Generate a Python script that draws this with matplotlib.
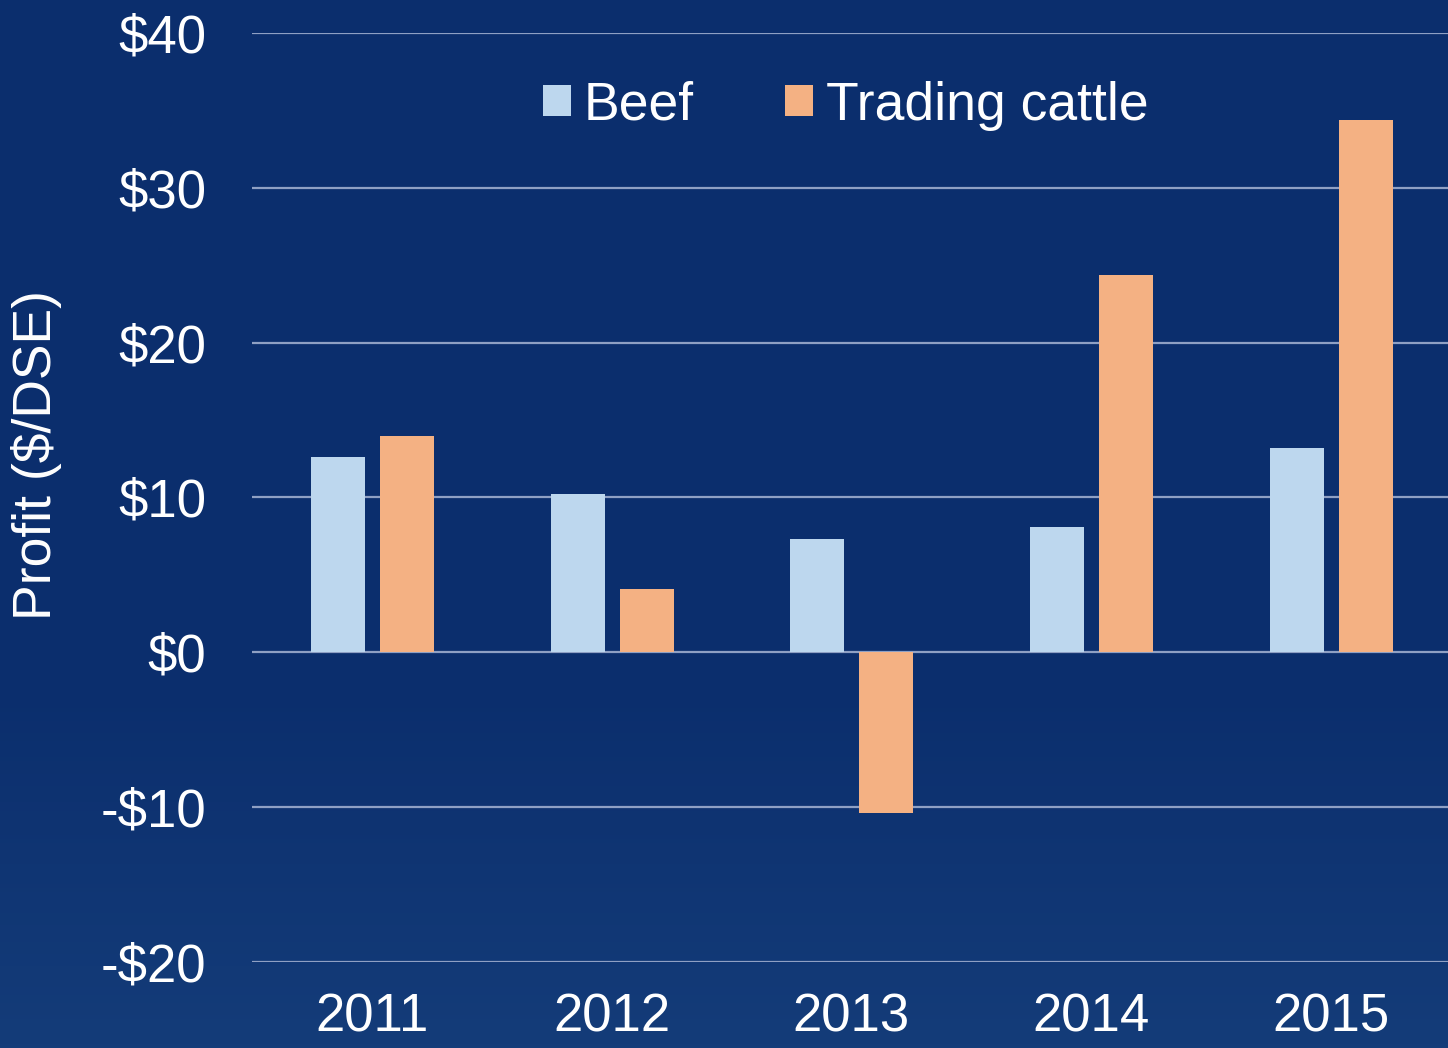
import matplotlib
matplotlib.use("Agg")
import matplotlib.pyplot as plt
import numpy as np
from matplotlib.colors import LinearSegmentedColormap

years = ["2011", "2012", "2013", "2014", "2015"]
beef = [12.6, 10.2, 7.3, 8.1, 13.2]
trading = [14.0, 4.1, -10.4, 24.4, 34.4]
yticks = [-20, -10, 0, 10, 20, 30, 40]
ytick_labels = ["-$20", "-$10", "$0", "$10", "$20", "$30", "$40"]

plt.rcParams['font.family'] = ['Liberation Sans', 'DejaVu Sans']

bg = "#0B2E6D"
fig = plt.figure(figsize=(14.48, 10.48), dpi=100, facecolor=bg)

# subtle background gradient (lighter water toward the bottom)
bgax = fig.add_axes([0, 0, 1, 1], zorder=-10)
grad = np.linspace(0, 1, 256)[:, None]
grad = np.clip((0.35 - grad) / 0.35, 0, 1)
cmap = LinearSegmentedColormap.from_list("bg", [bg, "#143C79"])
bgax.imshow(grad, aspect="auto", cmap=cmap, extent=[0, 1, 0, 1], origin="lower")
bgax.axis("off")

ax = fig.add_axes([0.174, 0.0821, 0.828, 0.8864])
ax.set_facecolor("none")

x = np.arange(len(years))
w = 0.225
ax.bar(x - 0.142, beef, width=w, color="#BDD7EE", label="Beef", zorder=3)
ax.bar(x + 0.146, trading, width=w, color="#F4B183", label="Trading cattle", zorder=3)

ax.set_xlim(-0.5, 4.5)
ax.set_ylim(-20, 40)
ax.set_yticks(yticks)
ax.set_yticklabels(ytick_labels)
ax.set_xticks(x)
ax.set_xticklabels(years)
ax.tick_params(axis="y", length=0, pad=33, labelsize=38, labelcolor="white")
ax.tick_params(axis="x", length=0, pad=22, labelsize=38, labelcolor="white")
ax.grid(axis="y", color="#8FA0C4", linewidth=1.6, zorder=1)
for s in ax.spines.values():
    s.set_visible(False)

fig.text(37 / 1448, 0.566, "Profit ($/DSE)", rotation=90, color="white",
         fontsize=38.5, ha="center", va="center")

leg = ax.legend(loc="center", bbox_to_anchor=(0.584, 0.899),
                bbox_transform=fig.transFigure, ncol=2, frameon=False,
                fontsize=38.5, handlelength=0.52, handleheight=0.52,
                handletextpad=0.25, columnspacing=1.7)
for t in leg.get_texts():
    t.set_color("white")

fig.savefig("out.png", dpi=100, facecolor=bg)
